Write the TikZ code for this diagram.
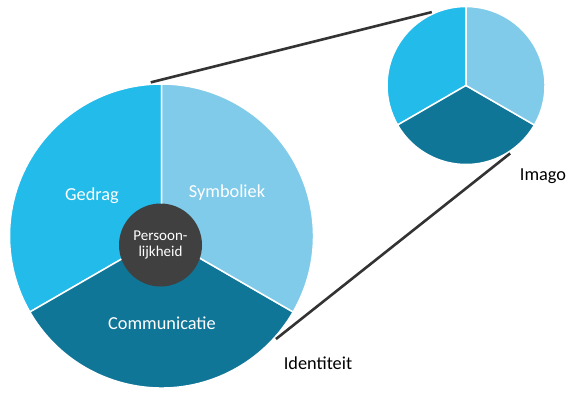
\documentclass[tikz,border=0pt]{standalone}
\usepackage{fontspec}
\setmainfont{Carlito}
\definecolor{gedrag}{RGB}{34,187,234}
\definecolor{symboliek}{RGB}{128,203,234}
\definecolor{communicatie}{RGB}{16,118,152}
\definecolor{kern}{RGB}{64,64,64}
\definecolor{lijn}{RGB}{51,51,51}
\tikzset{
  cirkel/.style={circle,inner sep=0pt,outer sep=2pt},
  segment/.style={draw=white,line width=1.5pt},
  verbinding/.style={draw=lijn,line width=2.6pt},
  tekst/.style={anchor=base,inner sep=0pt,font=\fontsize{18.3}{22}\selectfont}
}
\begin{document}
\begin{tikzpicture}[x=1pt,y=1pt]
  \useasboundingbox (0,0) rectangle (580,400);
  % the two pies
  \foreach \cx/\cy/\r in {161.5/164/152,466/314.5/79}
    \foreach \a/\kleur in {90/gedrag,210/communicatie,330/symboliek}
      \filldraw[segment,fill=\kleur] (\cx,\cy) -- ++(\a:\r)
        arc[start angle=\a,delta angle=120,radius=\r] -- cycle;
  \node[cirkel,minimum size=304pt] (groot) at (161.5,164) {};
  \node[cirkel,minimum size=158pt] (klein) at (466,314.5) {};
  % zoom lines
  \draw[verbinding] (groot.94) -- (klein.115);
  \draw[verbinding] (groot.-42.5) -- (klein.-57.3);
  % centre
  \node[circle,fill=kern,minimum size=83pt,inner sep=0pt,text=white,align=center,
        font=\fontsize{15}{16.7}\selectfont] (persoon) at (160.5,155) {Persoon-\\lijkheid};
  % labels
  \node[tekst,text=white] (gedraglabel) at (92,200) {Gedrag};
  \node[tekst,text=white] (symboliekabel) at (227,202.7) {Symboliek};
  \node[tekst,text=white] (communicatielabel) at (162,70.7) {Communicatie};
  \node[tekst] (identiteit) at (318,30.7) {Identiteit};
  \node[tekst] (imago) at (543,220) {Imago};
\end{tikzpicture}
\end{document}
